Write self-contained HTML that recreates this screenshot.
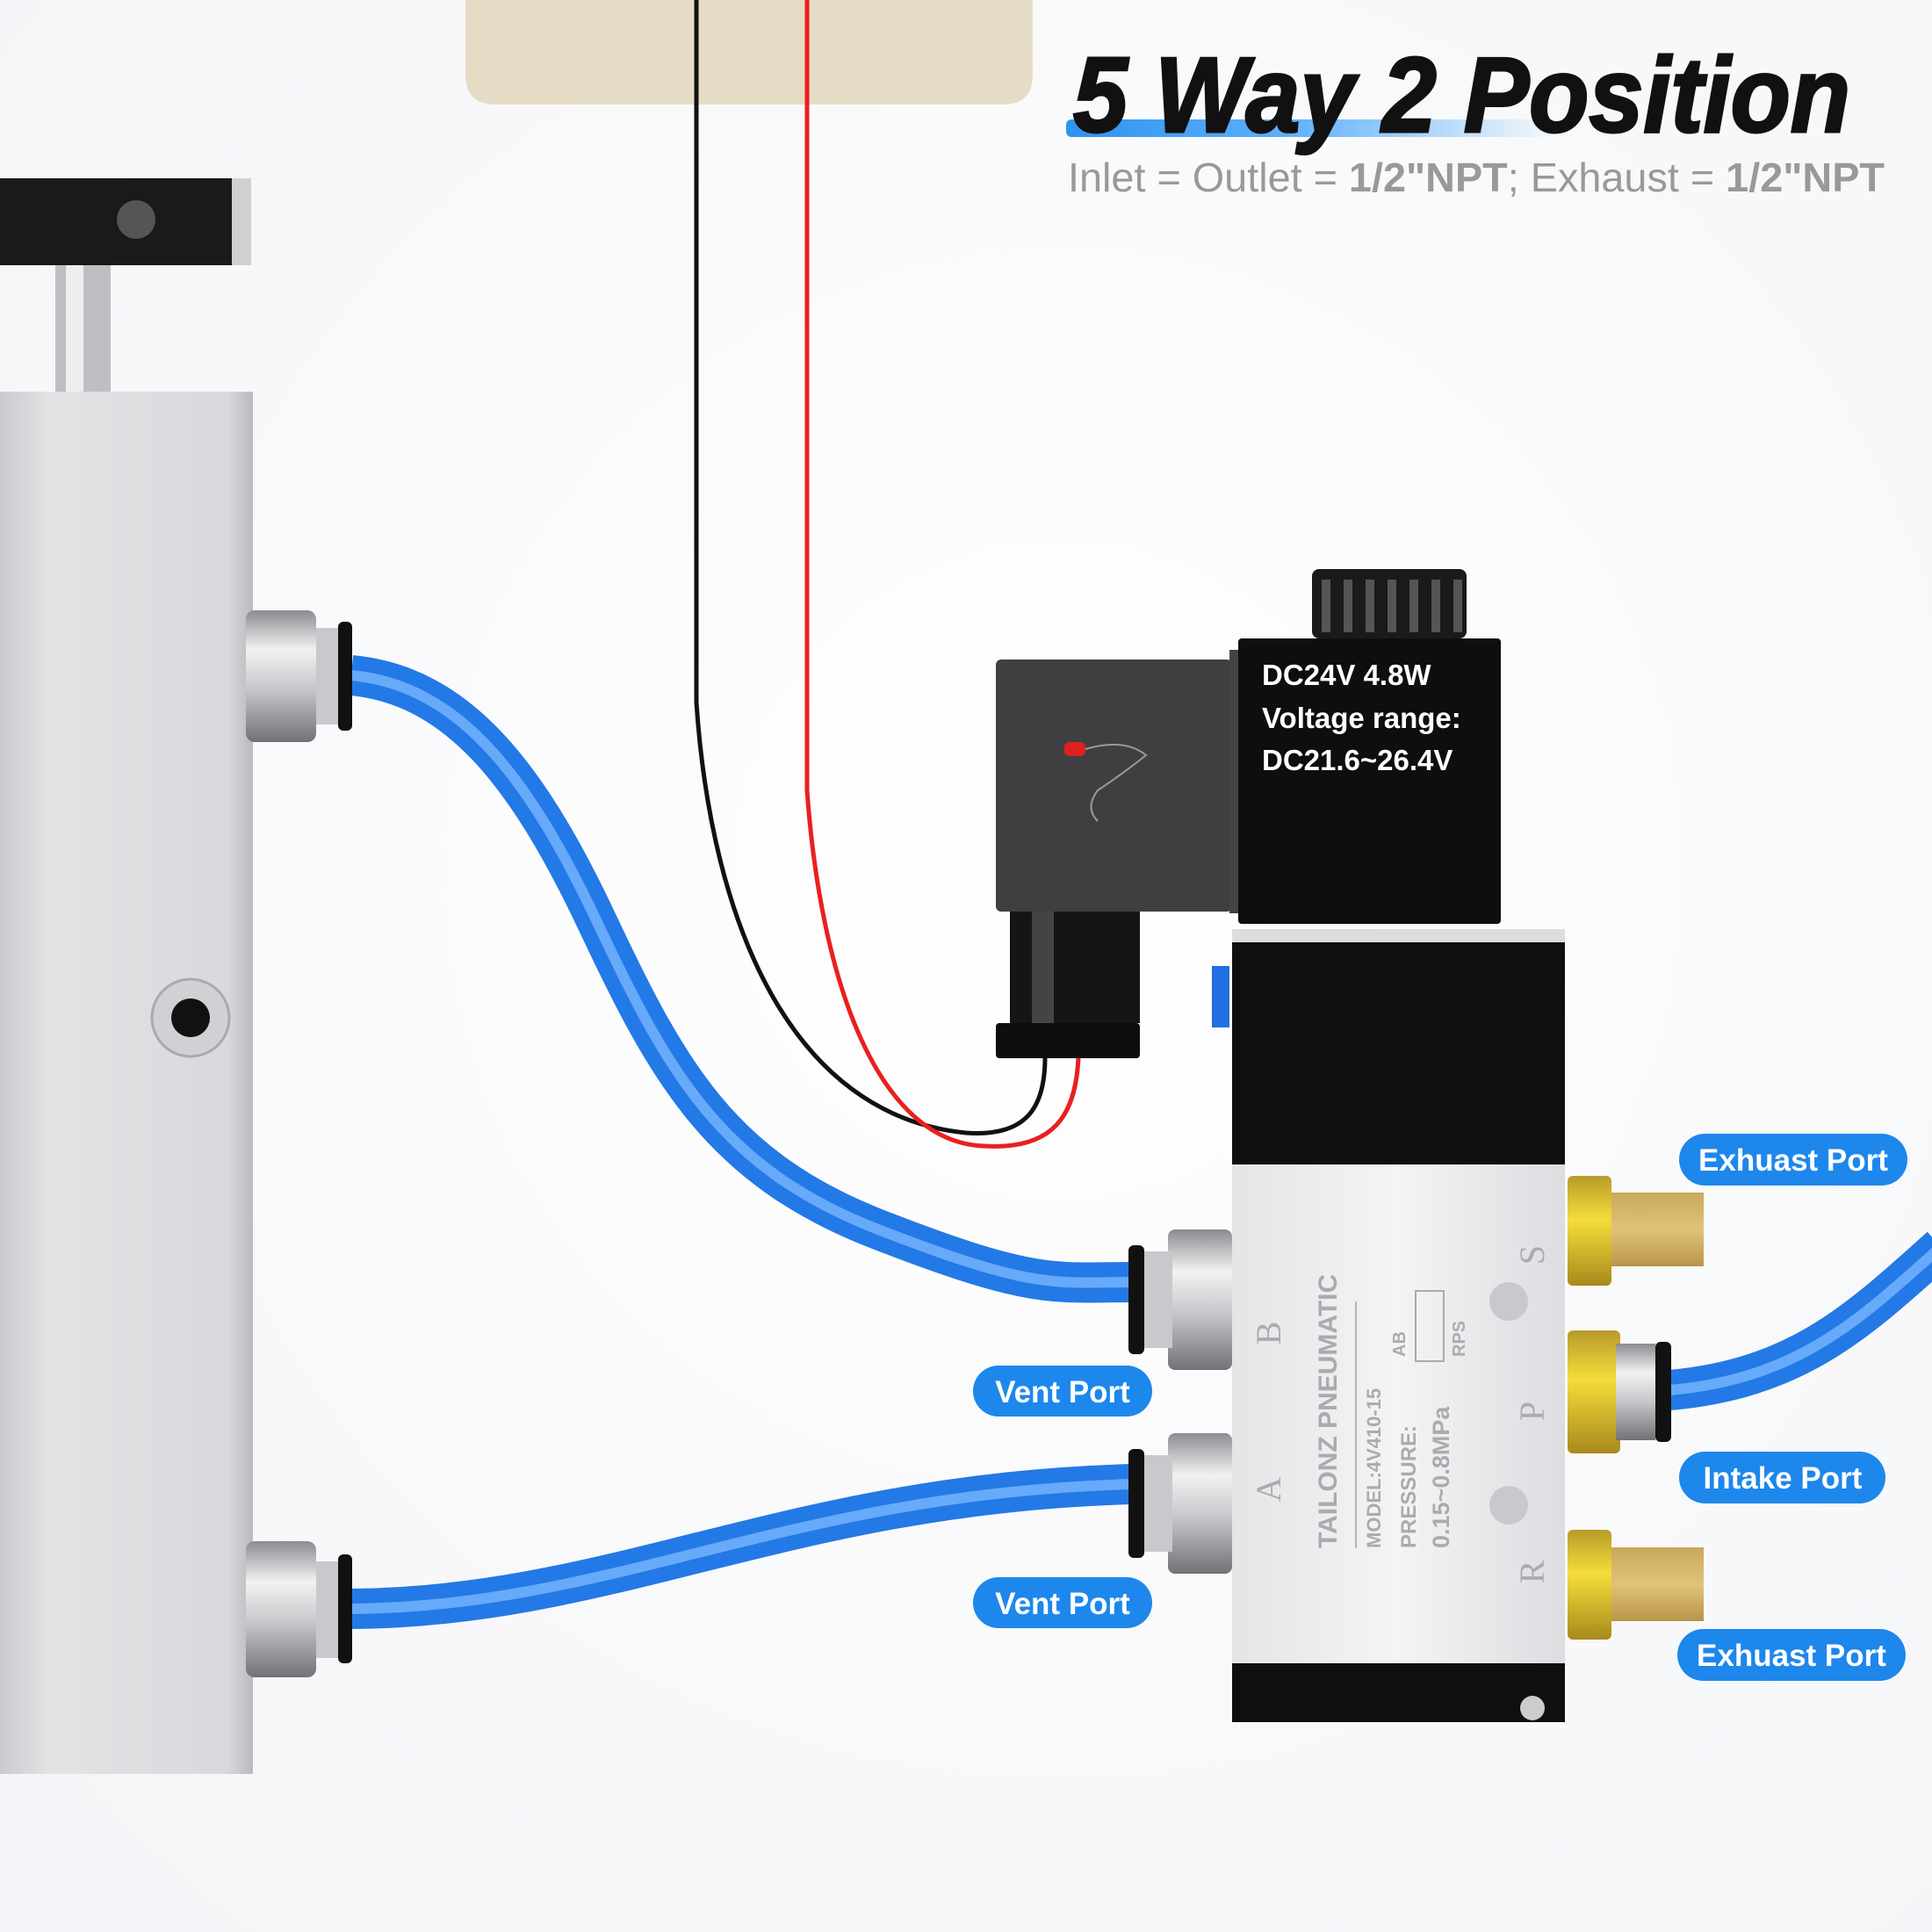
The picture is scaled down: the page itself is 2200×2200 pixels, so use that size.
<!DOCTYPE html>
<html><head><meta charset="utf-8"><style>
html,body{margin:0;padding:0;background:#fff}
svg{display:block}
</style></head><body>
<svg width="2200" height="2200" viewBox="0 0 2200 2200" xmlns="http://www.w3.org/2000/svg">
<defs>
<radialGradient id="bg" cx="0.55" cy="0.45" r="0.8"><stop offset="0" stop-color="#ffffff"/><stop offset="1" stop-color="#f3f4f7"/></radialGradient>
<linearGradient id="cyl" x1="0" x2="1"><stop offset="0" stop-color="#c9cbce"/><stop offset="0.2" stop-color="#e2e3e5"/><stop offset="0.9" stop-color="#d8d9dc"/><stop offset="1" stop-color="#b8babd"/></linearGradient>
<linearGradient id="alu" x1="0" x2="1"><stop offset="0" stop-color="#e4e5e7"/><stop offset="0.5" stop-color="#f4f4f5"/><stop offset="1" stop-color="#dcdde0"/></linearGradient>
<linearGradient id="bar" x1="0" x2="1"><stop offset="0" stop-color="#2f93f0"/><stop offset="0.45" stop-color="#5cb1fb"/><stop offset="1" stop-color="#5cb1fb" stop-opacity="0"/></linearGradient>
<linearGradient id="nut" x1="0" x2="0" y1="0" y2="1"><stop offset="0" stop-color="#8a8c90"/><stop offset="0.3" stop-color="#f2f2f2"/><stop offset="0.6" stop-color="#c5c7ca"/><stop offset="1" stop-color="#707276"/></linearGradient>
<linearGradient id="brass" x1="0" x2="0" y1="0" y2="1"><stop offset="0" stop-color="#b89b2a"/><stop offset="0.4" stop-color="#f4dd3a"/><stop offset="1" stop-color="#a8891c"/></linearGradient>
<linearGradient id="muff" x1="0" x2="0" y1="0" y2="1"><stop offset="0" stop-color="#c9a85a"/><stop offset="0.5" stop-color="#e1c27a"/><stop offset="1" stop-color="#b8954a"/></linearGradient>
</defs>
<rect width="2200" height="2200" fill="url(#bg)"/>

<path d="M530,0 H1176 V85 Q1176,119 1142,119 H564 Q530,119 530,85 Z" fill="#e6dcc6"/>

<rect x="0" y="203" width="274" height="99" fill="#1a1a1a"/>
<rect x="264" y="203" width="22" height="99" fill="#d0d0d0"/>
<circle cx="155" cy="250" r="22" fill="#555"/>
<rect x="63" y="302" width="63" height="144" fill="#bdbfc2"/>
<rect x="75" y="302" width="20" height="144" fill="#eee"/>
<rect x="0" y="446" width="288" height="1574" fill="url(#cyl)"/>
<circle cx="217" cy="1159" r="44" fill="#cfd1d4" stroke="#aaa" stroke-width="3"/>
<circle cx="217" cy="1159" r="22" fill="#111"/>

<path d="M793,0 L793,800 C810,1050 900,1270 1100,1290 C1170,1295 1190,1260 1190,1204" fill="none" stroke="#111" stroke-width="5"/>
<path d="M919,0 L919,900 C935,1120 1000,1300 1120,1305 C1200,1310 1225,1270 1228,1204" fill="none" stroke="#e82020" stroke-width="5"/>

<g fill="none" stroke-linecap="butt">
<path d="M400,769 C520,780 600,880 680,1050 S820,1330 1000,1400 S1200,1460 1290,1460" stroke="#2379e6" stroke-width="46"/>
<path d="M400,769 C520,780 600,880 680,1050 S820,1330 1000,1400 S1200,1460 1290,1460" stroke="#78b6ff" stroke-width="12" opacity="0.8"/>
<path d="M400,1832 C700,1830 900,1700 1290,1690" stroke="#2379e6" stroke-width="46"/>
<path d="M400,1832 C700,1830 900,1700 1290,1690" stroke="#78b6ff" stroke-width="12" opacity="0.8"/>
<path d="M1901,1583 C2050,1570 2120,1500 2210,1420" stroke="#2379e6" stroke-width="46"/>
<path d="M1901,1583 C2050,1570 2120,1500 2210,1420" stroke="#78b6ff" stroke-width="12" opacity="0.8"/>
</g>

<g>
<rect x="280" y="695" width="80" height="150" rx="10" fill="url(#nut)"/>
<rect x="360" y="715" width="30" height="110" fill="#c8c9cc"/>
<rect x="385" y="708" width="16" height="124" rx="6" fill="#111"/>
<rect x="280" y="1755" width="80" height="155" rx="10" fill="url(#nut)"/>
<rect x="360" y="1778" width="30" height="110" fill="#c8c9cc"/>
<rect x="385" y="1770" width="16" height="124" rx="6" fill="#111"/>
</g>

<rect x="1134" y="751" width="269" height="287" rx="6" fill="#2a2a2c" opacity="0.9"/>
<rect x="1212" y="845" width="24" height="16" rx="6" fill="#e02020"/>
<path d="M1236,853 Q1280,840 1305,860 Q1280,880 1250,900 Q1235,920 1250,935" fill="none" stroke="#999" stroke-width="2"/>
<rect x="1150" y="1038" width="148" height="127" fill="#151515"/>
<rect x="1175" y="1038" width="25" height="127" fill="#444"/>
<rect x="1134" y="1165" width="164" height="40" rx="4" fill="#0d0d0d"/>
<rect x="1380" y="1100" width="20" height="70" fill="#1f6fe0"/>

<rect x="1494" y="648" width="176" height="79" rx="8" fill="#1a1a1a"/>
<g fill="#555"><rect x="1505" y="660" width="10" height="60"/><rect x="1530" y="660" width="10" height="60"/><rect x="1555" y="660" width="10" height="60"/><rect x="1580" y="660" width="10" height="60"/><rect x="1605" y="660" width="10" height="60"/><rect x="1630" y="660" width="10" height="60"/><rect x="1655" y="660" width="10" height="60"/></g>
<rect x="1400" y="740" width="14" height="300" fill="#444"/>
<rect x="1410" y="727" width="299" height="325" rx="4" fill="#0e0e0e"/>
<g font-family="Liberation Sans, sans-serif" font-weight="bold" font-size="33" fill="#fff">
<text x="1437" y="780">DC24V 4.8W</text>
<text x="1437" y="829">Voltage range:</text>
<text x="1437" y="877">DC21.6~26.4V</text>
</g>

<rect x="1403" y="1058" width="379" height="15" fill="#ddd"/>
<rect x="1403" y="1073" width="379" height="253" fill="#0f0f0f"/>
<rect x="1403" y="1326" width="379" height="568" fill="url(#alu)"/>
<rect x="1403" y="1894" width="379" height="67" fill="#0f0f0f"/>
<circle cx="1745" cy="1945" r="14" fill="#ccc"/>

<g>
<rect x="1330" y="1400" width="73" height="160" rx="8" fill="url(#nut)"/>
<rect x="1300" y="1425" width="35" height="110" fill="#c8c9cc"/>
<rect x="1285" y="1418" width="18" height="124" rx="6" fill="#111"/>
<rect x="1330" y="1632" width="73" height="160" rx="8" fill="url(#nut)"/>
<rect x="1300" y="1657" width="35" height="110" fill="#c8c9cc"/>
<rect x="1285" y="1650" width="18" height="124" rx="6" fill="#111"/>
</g>

<g>
<rect x="1785" y="1339" width="50" height="125" rx="6" fill="url(#brass)"/>
<path d="M1835,1358 H1940 V1442 H1835 Z" fill="url(#muff)"/>
<rect x="1785" y="1515" width="60" height="140" rx="6" fill="url(#brass)"/>
<rect x="1840" y="1530" width="45" height="110" fill="url(#nut)"/>
<rect x="1885" y="1528" width="18" height="114" rx="6" fill="#111"/>
<rect x="1785" y="1742" width="50" height="125" rx="6" fill="url(#brass)"/>
<path d="M1835,1762 H1940 V1846 H1835 Z" fill="url(#muff)"/>
</g>

<g font-family="Liberation Sans, sans-serif" font-weight="bold" fill="#a9abae">
<text transform="translate(1522,1763) rotate(-90)" font-size="30">TAILONZ PNEUMATIC</text>
<text transform="translate(1572,1763) rotate(-90)" font-size="22">MODEL:4V410-15</text>
<text transform="translate(1612,1763) rotate(-90)" font-size="24">PRESSURE:</text>
<text transform="translate(1650,1763) rotate(-90)" font-size="27">0.15~0.8MPa</text>
<text transform="translate(1600,1545) rotate(-90)" font-size="20">AB</text>
<text transform="translate(1668,1545) rotate(-90)" font-size="20">RPS</text>
</g>
<line x1="1544" y1="1482" x2="1544" y2="1763" stroke="#b0b2b5" stroke-width="2"/>
<rect x="1612" y="1470" width="32" height="80" fill="none" stroke="#aaa" stroke-width="2"/>
<g font-family="Liberation Serif, serif" font-size="40" fill="#a9abae">
<text transform="translate(1458,1696) rotate(-90)" text-anchor="middle">A</text>
<text transform="translate(1458,1518) rotate(-90)" text-anchor="middle">B</text>
<text transform="translate(1758,1429) rotate(-90)" text-anchor="middle">S</text>
<text transform="translate(1758,1607) rotate(-90)" text-anchor="middle">P</text>
<text transform="translate(1758,1790) rotate(-90)" text-anchor="middle">R</text>
</g>
<circle cx="1718" cy="1482" r="22" fill="#c8c9cc"/>
<circle cx="1718" cy="1714" r="22" fill="#c8c9cc"/>

<g font-family="Liberation Sans, sans-serif" font-weight="bold" font-size="35" fill="#fff" text-anchor="middle">
<rect x="1912" y="1291" width="260" height="59" rx="29.5" fill="#1d87ec"/>
<text x="2042" y="1333">Exhuast Port</text>
<rect x="1912" y="1653" width="235" height="59" rx="29.5" fill="#1d87ec"/>
<text x="2030" y="1695">Intake Port</text>
<rect x="1910" y="1855" width="260" height="59" rx="29.5" fill="#1d87ec"/>
<text x="2040" y="1897">Exhuast Port</text>
<rect x="1108" y="1555" width="204" height="58" rx="29" fill="#1d87ec"/>
<text x="1210" y="1597">Vent Port</text>
<rect x="1108" y="1796" width="204" height="58" rx="29" fill="#1d87ec"/>
<text x="1210" y="1838">Vent Port</text>
</g>

<rect x="1214" y="136" width="560" height="20" rx="6" fill="url(#bar)"/>
<text x="1222" y="150" font-family="Liberation Sans, sans-serif" font-weight="bold" font-style="italic" font-size="122" fill="#111" stroke="#111" stroke-width="3" textLength="885" lengthAdjust="spacingAndGlyphs">5 Way 2 Position</text>
<text x="1216" y="218" font-family="Liberation Sans, sans-serif" font-size="46" fill="#999" textLength="930" lengthAdjust="spacingAndGlyphs">Inlet = Outlet = <tspan font-weight="bold">1/2"NPT</tspan>; Exhaust = <tspan font-weight="bold">1/2"NPT</tspan></text>
</svg>
</body></html>
